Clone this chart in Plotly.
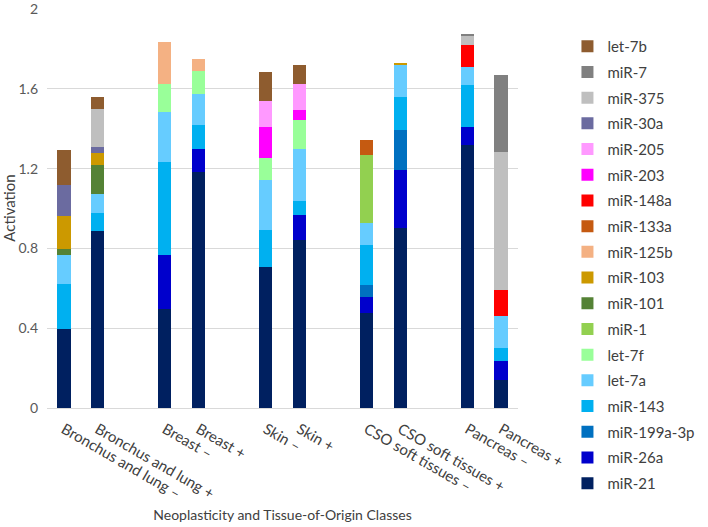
import plotly.graph_objects as go

categories = ["Bronchus and lung –", "Bronchus and lung +", "Breast –", "Breast +",
              "Skin –", "Skin +", "CSO soft tissues –", "CSO soft tissues +",
              "Pancreas –", "Pancreas +"]
positions = [0, 1, 3, 4, 6, 7, 9, 10, 12, 13]

y_ticks = [0, 0.4, 0.8, 1.2, 1.6, 2]
y_tick_labels = ["0", "0.4", "0.8", "1.2", "1.6", "2"]

# stacked from bottom to top
mir_21      = [0.394, 0.885, 0.496, 1.183, 0.707, 0.842, 0.478, 0.900, 1.320, 0.139]
mir_26a     = [0, 0, 0.272, 0.117, 0, 0.126, 0.076, 0.295, 0.091, 0.098]
mir_199a_3p = [0, 0, 0, 0, 0, 0, 0.065, 0.200, 0, 0]
mir_143     = [0.228, 0.093, 0.466, 0.119, 0.185, 0.071, 0.197, 0.163, 0.210, 0.063]
let_7a      = [0.147, 0.097, 0.249, 0.153, 0.253, 0.261, 0.112, 0.163, 0.090, 0.159]
let_7f      = [0, 0, 0.139, 0.117, 0.109, 0.146, 0, 0, 0, 0]
mir_1       = [0, 0, 0, 0, 0, 0, 0.338, 0, 0, 0]
mir_101     = [0.030, 0.141, 0, 0, 0, 0, 0, 0, 0, 0]
mir_103     = [0.161, 0.063, 0, 0, 0, 0, 0, 0.005, 0, 0]
mir_125b    = [0, 0, 0.213, 0.060, 0, 0, 0, 0, 0, 0]
mir_133a    = [0, 0, 0, 0, 0, 0, 0.079, 0, 0, 0]
mir_148a    = [0, 0, 0, 0, 0, 0, 0, 0, 0.110, 0.134]
mir_203     = [0, 0, 0, 0, 0.154, 0.048, 0, 0, 0, 0]
mir_205     = [0, 0, 0, 0, 0.132, 0.129, 0, 0, 0, 0]
mir_30a     = [0.159, 0.030, 0, 0, 0, 0, 0, 0, 0, 0]
mir_375     = [0, 0.188, 0, 0, 0, 0, 0, 0, 0.045, 0.691]
mir_7       = [0, 0, 0, 0, 0, 0, 0, 0, 0.006, 0.385]
let_7b      = [0.175, 0.060, 0, 0, 0.142, 0.094, 0, 0, 0, 0]

series = [
    ("miR-21", mir_21, "#002060"),
    ("miR-26a", mir_26a, "#0000CC"),
    ("miR-199a-3p", mir_199a_3p, "#0070C0"),
    ("miR-143", mir_143, "#00B0F0"),
    ("let-7a", let_7a, "#66CCFF"),
    ("let-7f", let_7f, "#99FF99"),
    ("miR-1", mir_1, "#92D050"),
    ("miR-101", mir_101, "#548235"),
    ("miR-103", mir_103, "#CC9900"),
    ("miR-125b", mir_125b, "#F4B183"),
    ("miR-133a", mir_133a, "#C55A11"),
    ("miR-148a", mir_148a, "#FF0000"),
    ("miR-203", mir_203, "#FF00FF"),
    ("miR-205", mir_205, "#FF99FF"),
    ("miR-30a", mir_30a, "#6B6BA0"),
    ("miR-375", mir_375, "#BFBFBF"),
    ("miR-7", mir_7, "#808080"),
    ("let-7b", let_7b, "#8E5C2F"),
]

fig = go.Figure()
n = len(series)
for i, (name, vals, color) in enumerate(series):
    fig.add_trace(go.Bar(
        x=positions, y=vals, name=name, legendgroup=name,
        legendrank=1000 + (n - i),
        marker=dict(color=color, line=dict(width=0)),
        width=0.4,
    ))

FONT = "Lato, 'Open Sans', sans-serif"
fig.update_layout(
    barmode="stack",
    width=708, height=527,
    margin=dict(l=47, r=166, t=8, b=119),
    paper_bgcolor="white", plot_bgcolor="white",
    font=dict(family=FONT, size=14, color="#404040"),
    legend=dict(
        traceorder="grouped", tracegroupgap=3.2,
        x=1.105, xanchor="left", y=0.945, yanchor="top",
        maxheight=527,
        font=dict(size=15, color="#404040"),
        bgcolor="rgba(0,0,0,0)",
    ),
    xaxis=dict(
        range=[-0.5, 13.5], tickmode="array", tickvals=positions, ticktext=categories,
        tickangle=30, showgrid=False, zeroline=False, showline=True,
        linecolor="#D9D9D9", linewidth=1, ticks="", ticklabelstandoff=6,
        tickfont=dict(size=15, color="#404040"), automargin=False,
        title=dict(text="Neoplasticity and Tissue-of-Origin Classes",
                   font=dict(size=14, color="#404040"), standoff=9),
    ),
    yaxis=dict(
        range=[0, 2.005], tickmode="array", tickvals=y_ticks, ticktext=y_tick_labels,
        showgrid=True, gridcolor="#D9D9D9", gridwidth=1, zeroline=False, showline=False,
        ticks="", ticklabelstandoff=8, automargin=False, ticklabeloverflow="allow",
        tickfont=dict(size=14, color="#595959"),
        title=dict(text="Activation", font=dict(size=15, color="#404040"), standoff=12),
    ),
)

fig.write_html("out.html", config={"displayModeBar": False},
               post_script="document.body.style.margin='0';document.body.style.padding='0';")
